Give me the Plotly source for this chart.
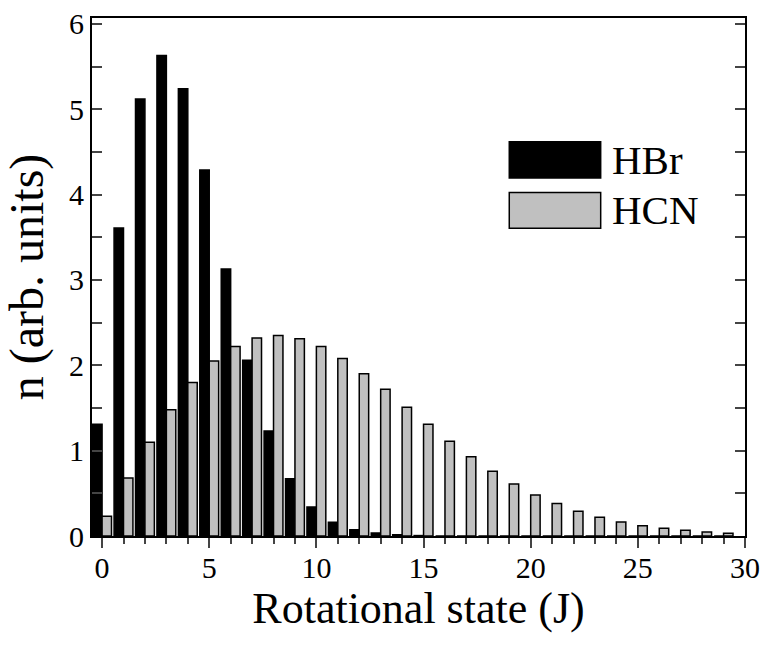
import plotly.graph_objects as go

# rotational state J
J = list(range(30))

# populations (arb. units)
hbr = [1.31, 3.61, 5.12, 5.63, 5.24, 4.29, 3.13, 2.06, 1.23, 0.67,
       0.34, 0.16, 0.074, 0.035, 0.015, 0.005, 0, 0, 0, 0,
       0, 0, 0, 0, 0, 0, 0, 0, 0, 0]
hcn = [0.23, 0.68, 1.10, 1.48, 1.80, 2.05, 2.22, 2.32, 2.35, 2.31,
       2.22, 2.08, 1.90, 1.72, 1.51, 1.31, 1.11, 0.93, 0.76, 0.61,
       0.48, 0.38, 0.29, 0.22, 0.164, 0.12, 0.09, 0.067, 0.047, 0.032]

series = [("HBr", hbr, "black"), ("HCN", hcn, "#c0c0c0")]

FONT = "Liberation Serif"

fig = go.Figure()
for name, vals, col in series:
    fig.add_trace(go.Bar(x=J, y=vals, name=name, offsetgroup=name,
                         marker=dict(color=col, line=dict(color="black", width=1.5))))

fig.update_layout(
    width=765, height=645,
    barmode="group", bargap=0.12, bargroupgap=0,
    plot_bgcolor="white", paper_bgcolor="white",
    showlegend=False,
    margin=dict(l=92, r=20, t=18, b=109, autoexpand=False),
    font=dict(family=FONT, size=30, color="black"),
    xaxis=dict(range=[-0.47, 30], tick0=0, dtick=5,
               ticks="outside", ticklen=10, tickwidth=2, ticklabelstandoff=-6,
               minor=dict(ticks="outside", dtick=1, ticklen=6, tickwidth=2),
               showline=True, linewidth=2, linecolor="black", mirror=True,
               showgrid=False, zeroline=False, automargin=False,
               title=dict(text="Rotational state (J)", font=dict(size=44), standoff=2)),
    xaxis2=dict(range=[-0.47, 30], overlaying="x", side="top", matches="x",
                tick0=0, dtick=5, ticks="inside", ticklen=10, tickwidth=2,
                minor=dict(ticks="inside", dtick=1, ticklen=6, tickwidth=2),
                showticklabels=False, showgrid=False, zeroline=False,
                showline=True, linewidth=2, linecolor="black", automargin=False),
    yaxis=dict(range=[0, 6.07], tick0=0, dtick=1,
               ticks="inside", ticklen=10, tickwidth=2,
               minor=dict(ticks="inside", dtick=0.5, ticklen=10, tickwidth=2),
               showline=True, linewidth=2, linecolor="black", mirror="ticks",
               showgrid=False, zeroline=False, automargin=False,
               title=dict(text="n (arb. units)", font=dict(size=48), standoff=17)),
)

# hand-drawn legend with big swatches, like the original
legend_y = [(0.691, 0.761), (0.594, 0.663)]
for (name, vals, col), (y0, y1) in zip(series, legend_y):
    fig.add_shape(type="rect", xref="paper", yref="paper",
                  x0=0.639, x1=0.779, y0=y0, y1=y1,
                  fillcolor=col, line=dict(color="black", width=1.5))
    fig.add_annotation(xref="paper", yref="paper", x=0.793, y=(y0 + y1) / 2,
                       text=name, showarrow=False, xanchor="left", yanchor="middle",
                       font=dict(family=FONT, size=41))

# drop the browser's default body margin so the figure sits at the page corner
fig.write_html("out.html", config={"displayModeBar": False},
               post_script="document.body.style.margin='0';")
